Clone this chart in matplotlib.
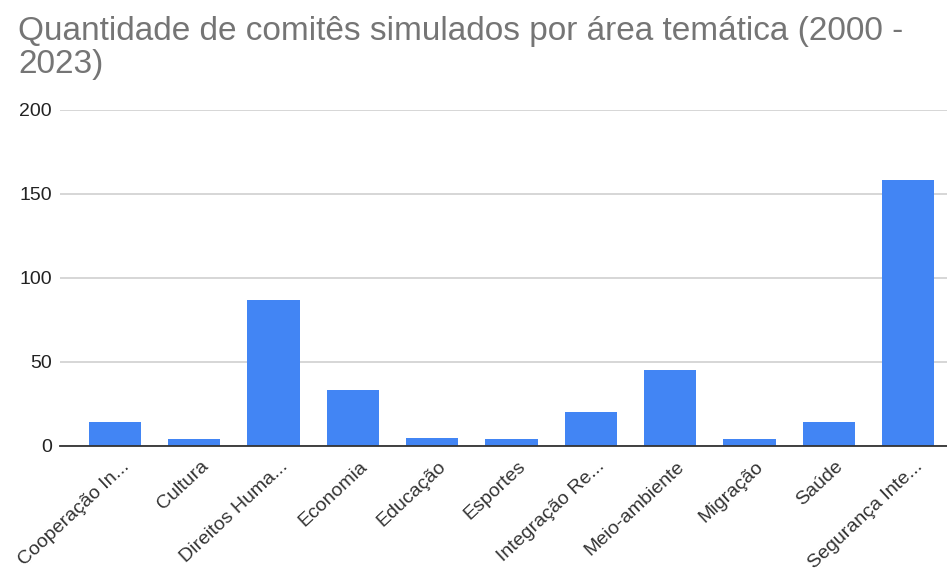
import numpy as np
import matplotlib.pyplot as plt
import matplotlib.transforms as mtransforms

plt.rcParams["font.family"] = ["Liberation Sans", "DejaVu Sans"]

categories = [
    "Cooperação In...",
    "Cultura",
    "Direitos Huma...",
    "Economia",
    "Educação",
    "Esportes",
    "Integração Re...",
    "Meio-ambiente",
    "Migração",
    "Saúde",
    "Segurança Inte...",
]
counts = [14, 4, 87, 33, 5, 4, 20, 45, 4, 14, 158]
yticks = [0, 50, 100, 150, 200]

fig = plt.figure(figsize=(9.47, 5.73), dpi=100)
ax = fig.add_axes([60 / 947, 127 / 573, 887 / 947, 336.5 / 573])

x = np.arange(len(categories))
ax.bar(x, counts, width=0.66, color="#4285f4", zorder=3)

ax.set_ylim(0, 200)
ax.set_xlim(-0.69, 10.49)
ax.set_yticks(yticks)
ax.set_yticklabels([str(t) for t in yticks], fontsize=14, color="#222222")
ax.yaxis.grid(True, color="#cccccc", linewidth=1.1, zorder=0)
ax.tick_params(axis="y", length=0, pad=6)
ax.tick_params(axis="x", length=0)

for side in ["top", "right", "left"]:
    ax.spines[side].set_visible(False)
ax.spines["bottom"].set_color("#333333")
ax.spines["bottom"].set_linewidth(1.3)
ax.spines["bottom"].set_zorder(4)

ax.set_xticks(x)
ax.set_xticklabels(categories, rotation=43, ha="right", rotation_mode="anchor",
                   fontsize=14, color="#333333")
offset = mtransforms.ScaledTranslation(0.06, -0.07, fig.dpi_scale_trans)
for lbl in ax.get_xticklabels():
    lbl.set_transform(lbl.get_transform() + offset)

fig.text(18 / 947, 1 - 73 / 573,
         "Quantidade de comitês simulados por área temática (2000 -\n2023)",
         fontsize=24, color="#757575", ha="left", va="baseline",
         linespacing=1.1)

fig.savefig("out.png", dpi=100)
